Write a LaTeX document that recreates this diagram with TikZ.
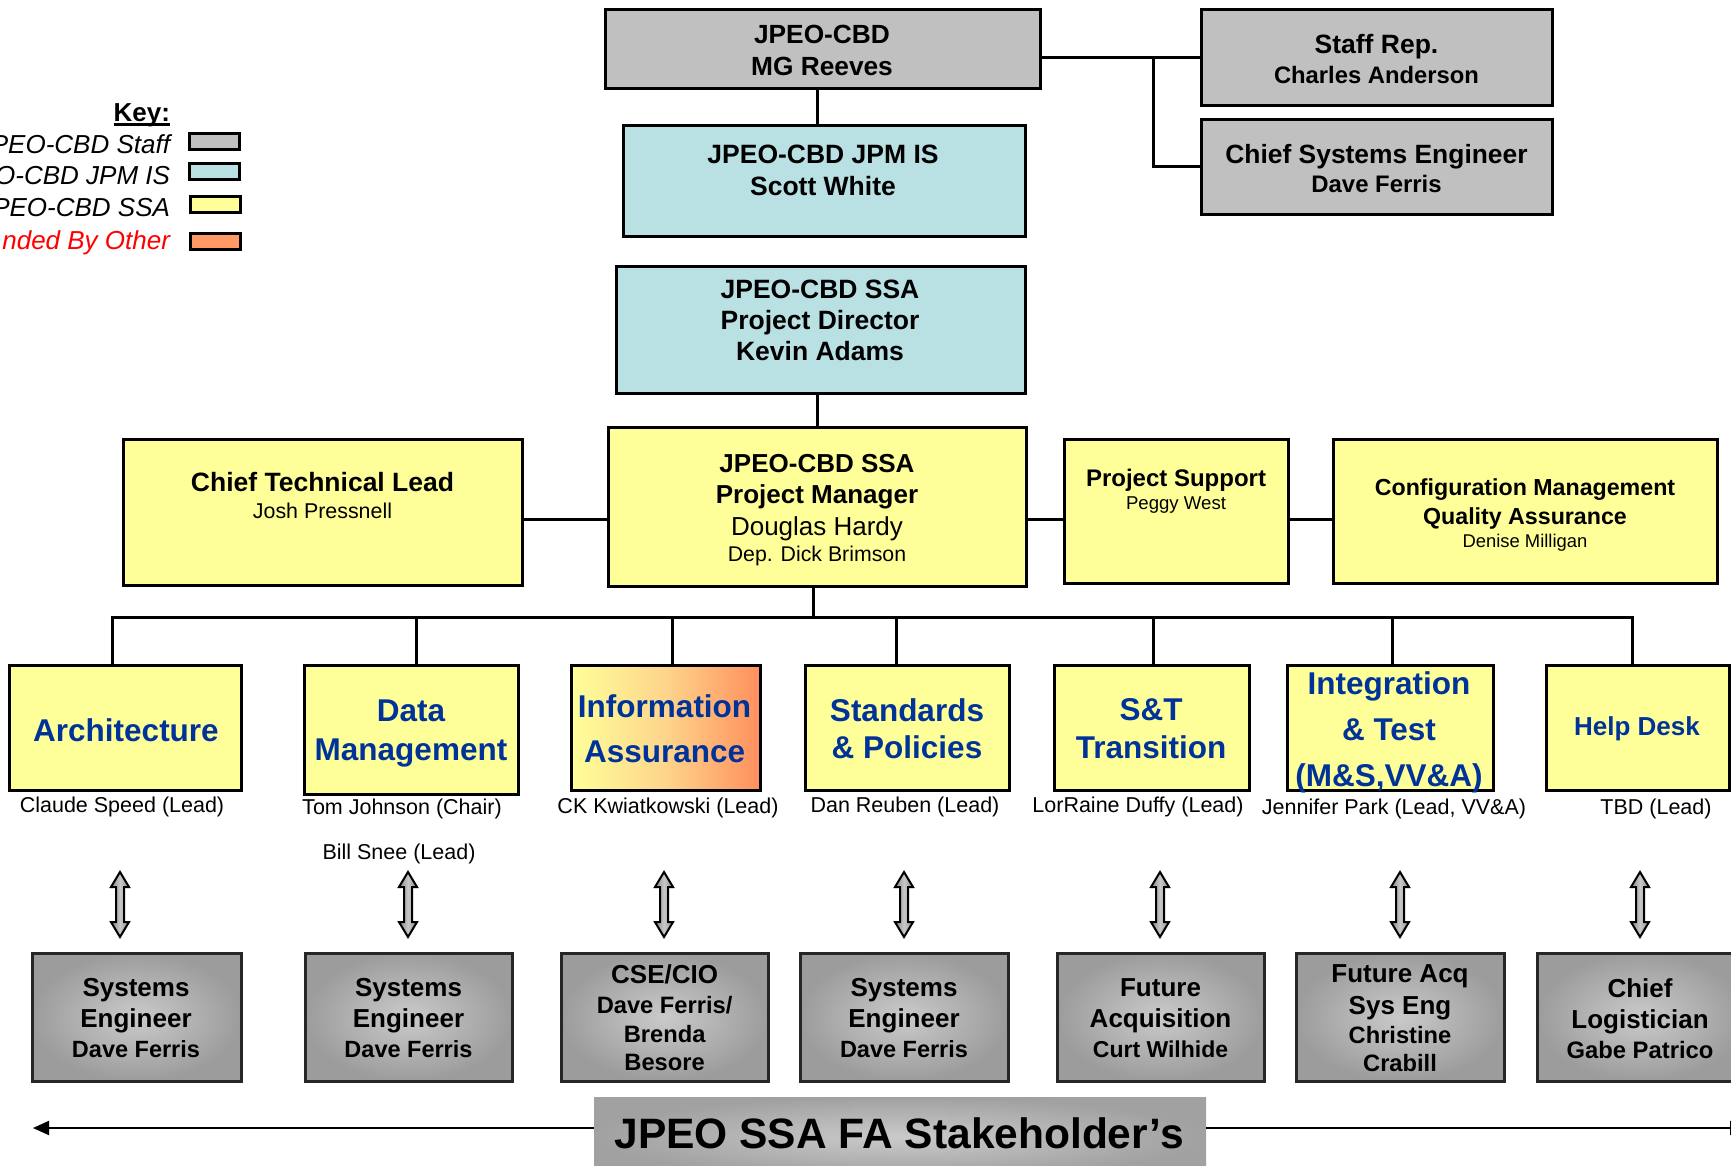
\documentclass[tikz,border=0pt]{standalone}
\usepackage{fontspec}
\setmainfont{Liberation Sans}
\usetikzlibrary{arrows.meta}
\definecolor{staffgray}{HTML}{C0C0C0}
\definecolor{jpmblue}{HTML}{B9E0E3}
\definecolor{ssayellow}{HTML}{FFFF99}
\definecolor{otherorange}{HTML}{FF9966}
\definecolor{iamid}{HTML}{FDD58C}
\definecolor{iaright}{HTML}{FF8F5C}
\definecolor{titleblue}{HTML}{003399}
\definecolor{stakelight}{HTML}{CACACA}
\definecolor{stakedark}{HTML}{9C9C9C}
\definecolor{arrlight}{HTML}{C8C8C8}
\definecolor{arrdark}{HTML}{8C8C8C}
\newcommand\fs[2]{\fontsize{#1}{#2}\selectfont}
\newcommand\thickul[1]{\setbox0\hbox{#1}\rlap{\rule[-4.5pt]{\wd0}{2.6pt}}\box0}
\begin{document}
\begin{tikzpicture}[x=1pt,y=-1pt,
  box/.style={draw=black, line width=3pt, inner sep=0pt, outer sep=0pt},
  staff/.style={box, fill=staffgray},
  jpm/.style={box, fill=jpmblue},
  ssa/.style={box, fill=ssayellow},
  other/.style={box, fill=otherorange},
  iabox/.style={box, left color=ssayellow, right color=iaright, middle color=iamid},
  stake/.style={box, draw=black!85, inner color=stakelight, outer color=stakedark},
  bannerbox/.style={inner sep=0pt, outer sep=0pt, inner color=stakelight, outer color=stakedark!95},
  txt/.style={align=center, inner sep=0pt, outer sep=0pt, text=black},
  ftitle/.style={txt, text=titleblue, font=\fs{31.5}{38}\bfseries},
  lbl/.style={txt, font=\fs{21.5}{26}},
  stxt/.style={txt, font=\fs{26}{31}\bfseries},
  keytxt/.style={txt, anchor=east, font=\fs{26}{31}\itshape},
  conn/.style={line width=3pt, draw=black, line join=miter},
  longarr/.style={line width=2pt, draw=black, -{Triangle[length=16pt,width=14pt]}},
  arrowshape/.style={draw=black, line width=2pt, line join=miter, left color=arrdark, right color=arrdark, middle color=arrlight},
  dblarr/.pic={\path[arrowshape] (0,-32.5) -- (9,-17.5) -- (4,-17.5) -- (4,17.5) -- (9,17.5) -- (0,32.5) -- (-9,17.5) -- (-4,17.5) -- (-4,-17.5) -- (-9,-17.5) -- cycle;}
]
\useasboundingbox (0,0) rectangle (1731,1165);
\clip (0,0) rectangle (1731,1165);

% ---------- key ----------
\node[txt, anchor=east, font=\fs{26}{31}\bfseries] (keyt) at (170,115) {\thickul{Key:}};
\node[keytxt] (k1t) at (170,144) {PEO-CBD Staff};
\node[keytxt] (k2t) at (170,176) {O-CBD JPM IS};
\node[keytxt] (k3t) at (170,208) {PEO-CBD SSA};
\node[keytxt, text=red] (k4t) at (170,242.7) {nded By Other};
\node[staff, minimum width=50pt, minimum height=16pt] (k1) at (214,141.5) {};
\node[jpm, minimum width=50pt, minimum height=16pt] (k2) at (214,171.5) {};
\node[ssa, minimum width=50pt, minimum height=16pt] (k3) at (215,204) {};
\node[other, minimum width=50pt, minimum height=16pt] (k4) at (215,241.5) {};

% ---------- top ----------
\node[staff, minimum width=435pt, minimum height=79pt] (top) at (822.5,48.5) {};
\node[txt, font=\fs{26.3}{32}\bfseries] (top-t) at (822,50) {JPEO-CBD\\MG Reeves};
\node[jpm, minimum width=402pt, minimum height=111pt] (jpm) at (824,180.5) {};
\node[txt, font=\fs{26.5}{32}\bfseries] (jpm-t) at (823,170.6) {JPEO-CBD JPM IS\\Scott White};
\node[staff, minimum width=351pt, minimum height=96pt] (srep) at (1376.5,57) {};
\node[txt, font=\fs{26.5}{30}\bfseries] (srep-t) at (1376.5,59) {Staff Rep.\\{\fs{23.8}{30}Charles Anderson}};
\node[staff, minimum width=351pt, minimum height=95pt] (cse) at (1376.5,166.5) {};
\node[txt, font=\fs{26.4}{29}\bfseries] (cse-t) at (1376.5,168.5) {Chief Systems Engineer\\{\fs{23.9}{29}Dave Ferris}};
\node[jpm, minimum width=409pt, minimum height=127pt] (pd) at (820.5,329.5) {};
\node[txt, font=\fs{26.5}{31}\bfseries] (pd-t) at (820,320) {JPEO-CBD SSA\\Project Director\\Kevin Adams};

% ---------- middle row ----------
\node[ssa, minimum width=418pt, minimum height=159pt] (pm) at (817,506.5) {};
\node[txt, font=\fs{26}{31}\bfseries] (pm-t) at (817,510) {JPEO-CBD SSA\\Project Manager\\[1pt]{\mdseries Douglas Hardy}\\[-5.7pt]{\mdseries\fs{21.3}{26}Dep. Dick Brimson}};
\node[ssa, minimum width=399pt, minimum height=146pt] (ctl) at (322.5,512) {};
\node[txt, font=\fs{26.5}{27}\bfseries] (ctl-t) at (322.5,495.5) {Chief Technical Lead\\{\mdseries\fs{21.4}{27}Josh Pressnell}};
\node[ssa, minimum width=224pt, minimum height=144pt] (ps) at (1176,511) {};
\node[txt, font=\fs{24}{23}\bfseries] (ps-t) at (1176,491.5) {Project Support\\{\mdseries\fs{18.6}{23}Peggy West}};
\node[ssa, minimum width=384pt, minimum height=144pt] (cm) at (1525,511) {};
\node[txt, font=\fs{23.2}{29}\bfseries] (cm-t) at (1525,515) {Configuration Management\\Quality Assurance\\[-5.7pt]{\mdseries\fs{18.4}{23}Denise Milligan}};

% ---------- functional boxes ----------
\node[ssa, minimum width=232pt, minimum height=125pt] (arch) at (125,727.5) {};
\node[ftitle] (arch-t) at (126,730) {Architecture};
\node[ssa, minimum width=214pt, minimum height=129pt] (dm) at (411,729.5) {};
\node[ftitle, font=\fs{31.5}{38.6}\bfseries] (dm-t) at (411,733.6) {Data\\Management};
\node[iabox, minimum width=189pt, minimum height=125pt] (ia) at (665.5,727.5) {};
\node[ftitle, font=\fs{31.5}{45}\bfseries] (ia-t) at (664.6,729.2) {Information\\Assurance};
\node[ssa, minimum width=204pt, minimum height=125pt] (sp) at (907,727.5) {};
\node[ftitle, font=\fs{31.5}{37.5}\bfseries] (sp-t) at (907,728.7) {Standards\\\& Policies};
\node[ssa, minimum width=195pt, minimum height=125pt] (st) at (1151.5,727.5) {};
\node[ftitle, font=\fs{31.5}{37.5}\bfseries] (st-t) at (1151,728.7) {S\&T\\Transition};
\node[ssa, minimum width=206pt, minimum height=125pt] (it) at (1390,727.5) {};
\node[ftitle, font=\fs{31.5}{45.8}\bfseries] (it-t) at (1389,732.5) {Integration\\\& Test\\(M\&S,VV\&A)};
\node[ssa, minimum width=183pt, minimum height=125pt] (hd) at (1637.5,727.5) {};
\node[ftitle, font=\fs{26}{31}\bfseries] (hd-t) at (1637,728.6) {Help Desk};

% ---------- labels ----------
\node[lbl] (arch-l) at (122,807) {Claude Speed (Lead)};
\node[lbl] (dm-l) at (402,809) {Tom Johnson (Chair)};
\node[lbl] (dm-l2) at (399,854) {Bill Snee (Lead)};
\node[lbl] (ia-l) at (668,808) {CK Kwiatkowski (Lead)};
\node[lbl] (sp-l) at (905,807) {Dan Reuben (Lead)};
\node[lbl] (st-l) at (1138,807) {LorRaine Duffy (Lead)};
\node[lbl] (it-l) at (1394,809) {Jennifer Park (Lead, VV\&A)};
\node[lbl] (hd-l) at (1656,809) {TBD (Lead)};

% ---------- connectors ----------
\coordinate (spine) at (817,0);
\draw[conn] (top.south -| spine) -- (jpm.north -| spine);
\draw[conn] (pd.south -| spine) -- (pm.north -| spine);
\coordinate (br) at (1153,57);
\draw[conn] (top.east |- srep.west) -- (srep.west);
\draw[conn] (br) |- (cse.west);
\coordinate (hb) at (0,519);
\draw[conn] (ctl.east |- hb) -- (pm.west |- hb);
\draw[conn] (pm.east |- hb) -- (ps.west |- hb);
\draw[conn] (ps.east |- hb) -- (cm.west |- hb);
\coordinate (d1) at (112,617);
\coordinate (d2) at (416,617);
\coordinate (d3) at (672,617);
\coordinate (d4) at (896,617);
\coordinate (d5) at (1153,617);
\coordinate (d6) at (1392,617);
\coordinate (d7) at (1632,617);
\coordinate (dpm) at (813,617);
\draw[conn] (d1 |- arch.north) -- (d1) -- (d7) -- (d7 |- hd.north);
\draw[conn] (dpm |- pm.south) -- (dpm);
\draw[conn] (d2) -- (d2 |- dm.north);
\draw[conn] (d3) -- (d3 |- ia.north);
\draw[conn] (d4) -- (d4 |- sp.north);
\draw[conn] (d5) -- (d5 |- st.north);
\draw[conn] (d6) -- (d6 |- it.north);

% ---------- double arrows ----------
\pic at (120,904.5) {dblarr};
\pic at (408,904.5) {dblarr};
\pic at (664,904.5) {dblarr};
\pic at (904,904.5) {dblarr};
\pic at (1160,904.5) {dblarr};
\pic at (1400,904.5) {dblarr};
\pic at (1640,904.5) {dblarr};

% ---------- stakeholder boxes ----------
\node[stake, minimum width=209pt, minimum height=128pt] (s1) at (136.5,1017) {};
\node[stxt] (s1-t) at (136,1018.5) {Systems\\Engineer\\[-1pt]{\fs{23.5}{30}Dave Ferris}};
\node[stake, minimum width=207pt, minimum height=128pt] (s2) at (408.5,1017) {};
\node[stxt] (s2-t) at (408.5,1018.5) {Systems\\Engineer\\[-1pt]{\fs{23.5}{30}Dave Ferris}};
\node[stake, minimum width=207pt, minimum height=128pt] (s3) at (664.5,1017) {};
\node[stxt, font=\fs{26}{29.5}\bfseries] (s3-t) at (664.6,1018) {CSE/CIO\\{\fs{23.7}{29}Dave Ferris/}\\{\fs{23.7}{29}Brenda}\\[-1.5pt]{\fs{23.7}{29}Besore}};
\node[stake, minimum width=208pt, minimum height=128pt] (s4) at (904,1017) {};
\node[stxt] (s4-t) at (904,1018.5) {Systems\\Engineer\\[-1pt]{\fs{23.5}{30}Dave Ferris}};
\node[stake, minimum width=207pt, minimum height=128pt] (s5) at (1160.5,1017) {};
\node[stxt] (s5-t) at (1160.5,1018.5) {Future\\Acquisition\\[-1pt]{\fs{23}{30}Curt Wilhide}};
\node[stake, minimum width=208pt, minimum height=128pt] (s6) at (1400,1017) {};
\node[stxt, font=\fs{26}{29.5}\bfseries] (s6-t) at (1400,1018.6) {Future Acq\\[2pt]Sys Eng\\{\fs{23.7}{29}Christine}\\[-1.5pt]{\fs{23.7}{29}Crabill}};
\node[stake, minimum width=208pt, minimum height=128pt] (s7) at (1641,1017) {};
\node[stxt] (s7-t) at (1640,1018.5) {Chief\\Logistician\\[-1pt]{\fs{23.8}{30}Gabe Patrico}};

% ---------- banner ----------
\node[bannerbox, minimum width=612pt, minimum height=80pt] (banner) at (900,1137) {};
\node[txt, font=\fs{42.5}{50}\bfseries] (banner-t) at (899,1133) {JPEO SSA FA Stakeholder’s};
\coordinate (la) at (33,1128);
\coordinate (ra) at (1746,1128);
\draw[longarr] (banner.west |- la) -- (la);
\draw[longarr] (banner.east |- ra) -- (ra);
\end{tikzpicture}
\end{document}
